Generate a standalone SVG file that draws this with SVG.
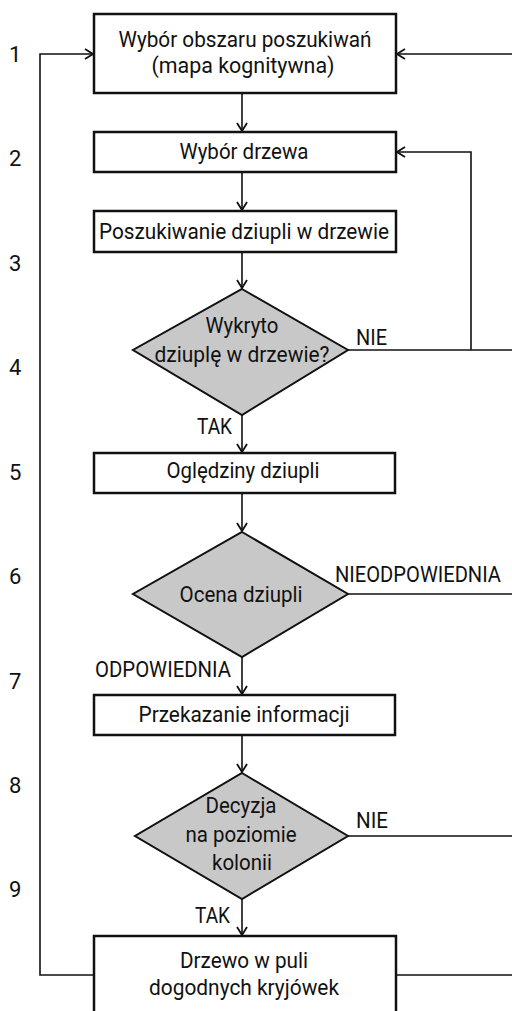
<svg xmlns="http://www.w3.org/2000/svg" width="512" height="1011" viewBox="0 0 512 1011">
<style>
text{font-family:Roboto,"Liberation Sans",sans-serif;font-size:22px;fill:#111;text-anchor:middle}
.num{text-anchor:start}
.lab{text-anchor:start}
.box{fill:#fff;stroke:#111;stroke-width:2.5}
.dia{fill:#c8c8c8;stroke:#111;stroke-width:2}
.con{fill:none;stroke:#111;stroke-width:1.6}
</style>
<defs>
<marker id="arr" viewBox="0 0 10 12" refX="9" refY="6" markerWidth="10" markerHeight="12" markerUnits="userSpaceOnUse" orient="auto">
<path d="M1,1 L9,6 L1,11" fill="none" stroke="#111" stroke-width="1.8"/>
</marker>
</defs>
<rect width="512" height="1011" fill="#fff"/>
<g id="connectors">
<line class="con" x1="242" y1="93" x2="242" y2="131" marker-end="url(#arr)"/>
<line class="con" x1="242" y1="172" x2="242" y2="210" marker-end="url(#arr)"/>
<line class="con" x1="242" y1="252" x2="242" y2="288" marker-end="url(#arr)"/>
<line class="con" x1="242" y1="415" x2="242" y2="452" marker-end="url(#arr)"/>
<line class="con" x1="242" y1="493" x2="242" y2="531" marker-end="url(#arr)"/>
<line class="con" x1="242" y1="657" x2="242" y2="694" marker-end="url(#arr)"/>
<line class="con" x1="242" y1="735" x2="242" y2="772" marker-end="url(#arr)"/>
<line class="con" x1="242" y1="899" x2="242" y2="935" marker-end="url(#arr)"/>
<line class="con" x1="512" y1="54" x2="397" y2="54" marker-end="url(#arr)"/>
<line class="con" x1="348" y1="350" x2="512" y2="350"/>
<polyline class="con" points="471,350 471,152 397,152" marker-end="url(#arr)"/>
<line class="con" x1="348" y1="594" x2="512" y2="594"/>
<line class="con" x1="348" y1="836" x2="512" y2="836"/>
<line class="con" x1="396" y1="975" x2="512" y2="975"/>
<polyline class="con" points="93,975 40,975 40,54 93,54" marker-end="url(#arr)"/>
</g>
<g id="numbers">
<text class="num" x="9" y="62">1</text>
<text class="num" x="9" y="166">2</text>
<text class="num" x="9" y="271">3</text>
<text class="num" x="9" y="375">4</text>
<text class="num" x="9" y="480">5</text>
<text class="num" x="9" y="584">6</text>
<text class="num" x="9" y="689">7</text>
<text class="num" x="9" y="793">8</text>
<text class="num" x="9" y="897">9</text>
</g>
<g id="n1">
<rect class="box" x="94" y="14" width="302" height="79"/>
<text x="245" y="47" textLength="253" lengthAdjust="spacingAndGlyphs">Wybór obszaru poszukiwań</text>
<text x="243" y="73" textLength="183" lengthAdjust="spacingAndGlyphs">(mapa kognitywna)</text>
</g>
<g id="n2">
<rect class="box" x="94" y="132" width="302" height="40"/>
<text x="244" y="159" textLength="129" lengthAdjust="spacingAndGlyphs">Wybór drzewa</text>
</g>
<g id="n3">
<rect class="box" x="94" y="211" width="302" height="41"/>
<text x="244" y="239" textLength="290" lengthAdjust="spacingAndGlyphs">Poszukiwanie dziupli w drzewie</text>
</g>
<g id="n4">
<polygon class="dia" points="242,289 348,350 242,415 133,350"/>
<text x="242" y="333" textLength="73" lengthAdjust="spacingAndGlyphs">Wykryto</text>
<text x="242" y="362" textLength="175" lengthAdjust="spacingAndGlyphs">dziuplę w drzewie?</text>
<text class="lab" x="356" y="345" textLength="31" lengthAdjust="spacingAndGlyphs">NIE</text>
<text class="lab" x="197" y="434" textLength="35" lengthAdjust="spacingAndGlyphs">TAK</text>
</g>
<g id="n5">
<rect class="box" x="94" y="453" width="301" height="40"/>
<text x="243" y="478" textLength="153" lengthAdjust="spacingAndGlyphs">Oględziny dziupli</text>
</g>
<g id="n6">
<polygon class="dia" points="242,532 348,594 242,657 133,594"/>
<text class="lab" x="335" y="582" font-size="19" textLength="166" lengthAdjust="spacingAndGlyphs">NIEODPOWIEDNIA</text>
<text x="241" y="602" textLength="123" lengthAdjust="spacingAndGlyphs">Ocena dziupli</text>
<text class="lab" x="95" y="677" textLength="136" lengthAdjust="spacingAndGlyphs">ODPOWIEDNIA</text>
</g>
<g id="n7">
<rect class="box" x="94" y="695" width="301" height="40"/>
<text x="244" y="722" textLength="211" lengthAdjust="spacingAndGlyphs">Przekazanie informacji</text>
</g>
<g id="n8">
<polygon class="dia" points="242,773 348,836 242,899 135,836"/>
<text x="241" y="813" textLength="71" lengthAdjust="spacingAndGlyphs">Decyzja</text>
<text x="241" y="842" textLength="111" lengthAdjust="spacingAndGlyphs">na poziomie</text>
<text x="242" y="870" textLength="60" lengthAdjust="spacingAndGlyphs">kolonii</text>
<text class="lab" x="356" y="828" textLength="32" lengthAdjust="spacingAndGlyphs">NIE</text>
<text class="lab" x="195" y="923" textLength="35" lengthAdjust="spacingAndGlyphs">TAK</text>
</g>
<g id="n9">
<rect class="box" x="94" y="936" width="302" height="90"/>
<text x="244" y="968" textLength="128" lengthAdjust="spacingAndGlyphs">Drzewo w puli</text>
<text x="244" y="995" textLength="190" lengthAdjust="spacingAndGlyphs">dogodnych kryjówek</text>
</g>
</svg>
